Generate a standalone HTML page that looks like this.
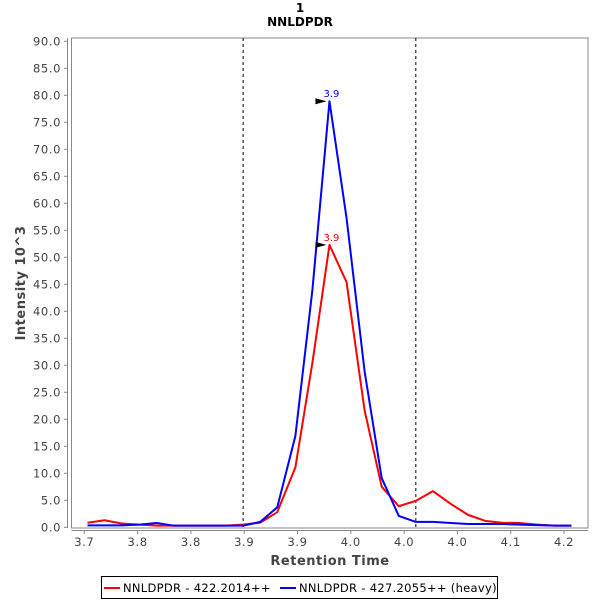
<!DOCTYPE html>
<html><head><meta charset="utf-8"><style>
body{margin:0;background:#fff;}
svg{display:block;font-family:"DejaVu Sans","Liberation Sans",sans-serif;}
</style></head><body>
<svg id="chart" width="600" height="600"></svg>
<script>
const times=[3.703,3.719,3.735,3.752,3.768,3.784,3.800,3.817,3.833,3.849,3.865,3.881,3.898,3.914,3.930,3.946,3.963,3.979,3.995,4.011,4.027,4.044,4.060,4.076,4.092,4.108,4.125,4.141,4.157];
const redVals=[0.85,1.3,0.7,0.5,0.3,0.3,0.3,0.3,0.3,0.5,0.85,2.8,11.1,30.5,52.3,45.4,21.6,7.5,3.9,4.9,6.7,4.3,2.3,1.2,0.85,0.8,0.5,0.3,0.3];
const blueVals=[0.35,0.35,0.35,0.5,0.8,0.3,0.3,0.3,0.3,0.3,1.0,3.7,16.9,44,78.9,57.3,28.8,9.1,2.1,1.0,1.0,0.8,0.6,0.6,0.6,0.5,0.4,0.3,0.3];
const yTicks=[0,5,10,15,20,25,30,35,40,45,50,55,60,65,70,75,80,85,90];
const xTickVals=[3.70,3.75,3.80,3.85,3.90,3.95,4.00,4.05,4.10,4.15];
const xTickLabels=["3.7","3.8","3.8","3.9","3.9","4.0","4.0","4.0","4.1","4.2"];
const boundaries=[3.849,4.011];
const peakLabels=["3.9","3.9"];

const NS="http://www.w3.org/2000/svg";
const svg=document.getElementById('chart');
const L=71.5,T=38,R=588,B=528;
const xs=t=>84.3+(t-3.70)/0.05*53.3;
const ys=v=>527.3-v*5.4;
function mk(tag,attrs,parent){const e=document.createElementNS(NS,tag);for(const k in attrs)e.setAttribute(k,attrs[k]);(parent||svg).appendChild(e);return e;}

let e=mk('text',{x:300,y:12,'text-anchor':'middle','font-size':12,'font-weight':'bold',fill:'#000'});e.textContent='1';


e=mk('text',{x:300,y:26,'text-anchor':'middle','font-size':12,'font-weight':'bold',fill:'#000'});e.textContent='NNLDPDR';



e=mk('rect',{x:L,y:T,width:R-L,height:B-T,fill:'#fff',stroke:'#888','stroke-width':1});



e=mk('line',{x1:67.5,y1:T,x2:67.5,y2:B,stroke:'#888'});


yTicks.forEach(v=>{
  const y=ys(v);
  mk('line',{x1:64,y1:y,x2:67.5,y2:y,stroke:'#888'});
  const t=mk('text',{x:61,y:y+4,'text-anchor':'end','font-size':11.5,'letter-spacing':'0.6',fill:'#444'});t.textContent=v.toFixed(1);
  
  
});
e=mk('line',{x1:L,y1:530.5,x2:R,y2:530.5,stroke:'#888'});


xTickVals.forEach((v,i)=>{
  const x=xs(v);
  mk('line',{x1:x,y1:530.5,x2:x,y2:534,stroke:'#888'});
  const t=mk('text',{x:x,y:546,'text-anchor':'middle','font-size':11.5,'letter-spacing':'0.6',fill:'#444'});t.textContent=xTickLabels[i];
  
  
});
e=mk('text',{x:330,y:565,'text-anchor':'middle','font-size':13,'font-weight':'bold','letter-spacing':'0.5',fill:'#444'});e.textContent='Retention Time';


e=mk('text',{x:0,y:0,'text-anchor':'middle','font-size':13,'font-weight':'bold','letter-spacing':'0.5',fill:'#444',transform:'translate(25,283) rotate(-90)'});e.textContent='Intensity 10^3';



boundaries.forEach(b=>{
  const l=mk('line',{x1:xs(b),y1:T,x2:xs(b),y2:B,stroke:'#000','stroke-dasharray':'3,3','stroke-width':1});
  
  
});

function series(vals,color,name){
  const p=mk('polyline',{points:vals.map((v,i)=>xs(times[i])+','+ys(v)).join(' '),fill:'none',stroke:color,'stroke-width':2,'stroke-linejoin':'round'});
  
  
}
series(redVals,'#f00','series-light');
series(blueVals,'#00f','series-heavy');

function peak(vals,color,label,name){
  let mi=0;vals.forEach((v,i)=>{if(v>vals[mi])mi=i;});
  const x=xs(times[mi]),y=ys(vals[mi]);
  const a=mk('polygon',{points:`${x-14},${y-3} ${x-3},${y} ${x-14},${y+3}`,fill:'#000'});
  
  
  const t=mk('text',{x:x-6,y:y-4,'font-size':10,fill:color});t.textContent=label;
  
  
}
peak(blueVals,'#00f',peakLabels[1],'peak-heavy');
peak(redVals,'#f00',peakLabels[0],'peak-light');

const lg=mk('g',{});


mk('rect',{x:101.5,y:576.5,width:396,height:22,fill:'#fff',stroke:'#000'},lg);
let le=mk('g',{},lg);


mk('line',{x1:104,y1:588,x2:120,y2:588,stroke:'#f00','stroke-width':2},le);
e=mk('text',{x:123,y:592,'font-size':11.5,'letter-spacing':'0.3',fill:'#000'},le);e.textContent='NNLDPDR - 422.2014++';
le=mk('g',{},lg);


mk('line',{x1:280,y1:588,x2:296,y2:588,stroke:'#00f','stroke-width':2},le);
e=mk('text',{x:299,y:592,'font-size':11.5,'letter-spacing':'0.3',fill:'#000'},le);e.textContent='NNLDPDR - 427.2055++ (heavy)';
</script>
</body></html>
